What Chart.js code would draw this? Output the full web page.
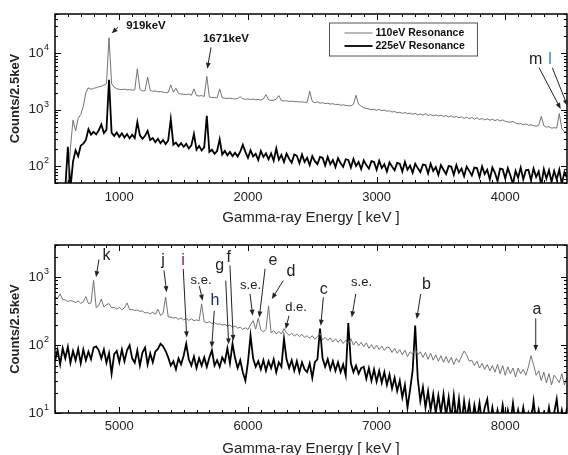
<!DOCTYPE html>
<html>
<head>
<meta charset="utf-8">
<title>Gamma-ray spectra</title>
<script src="https://cdn.jsdelivr.net/npm/chart.js@4.4.1/dist/chart.umd.min.js"></script>
<style>
  html, body { margin: 0; padding: 0; background: #fff; overflow: hidden; }
  .page { position: relative; width: 568px; height: 455px; overflow: hidden; }
  canvas { position: absolute; left: 0; }
  #topChart { top: 0; }
  #bottomChart { top: 228px; }
</style>
</head>
<body>
<div class="page">
  <canvas id="topChart" width="568" height="228"></canvas>
  <canvas id="bottomChart" width="568" height="240"></canvas>
</div>
<script>
// ---- data (keV, counts per 2.5 keV) ----
const seriesLabels = ["110eV Resonance", "225eV Resonance"];

const energyTop = [
  580, 600, 620, 640, 660, 680, 700, 720, 740, 760,
  780, 800, 820, 840, 860, 880, 900, 920, 940, 960,
  980, 1000, 1020, 1040, 1060, 1080, 1100, 1120, 1140, 1160,
  1180, 1200, 1220, 1240, 1260, 1280, 1300, 1320, 1340, 1360,
  1380, 1400, 1420, 1440, 1460, 1480, 1500, 1520, 1540, 1560,
  1580, 1600, 1620, 1640, 1660, 1680, 1700, 1720, 1740, 1760,
  1780, 1800, 1820, 1840, 1860, 1880, 1900, 1920, 1940, 1960,
  1980, 2000, 2020, 2040, 2060, 2080, 2100, 2120, 2140, 2160,
  2180, 2200, 2220, 2240, 2260, 2280, 2300, 2320, 2340, 2360,
  2380, 2400, 2420, 2440, 2460, 2480, 2500, 2520, 2540, 2560,
  2580, 2600, 2620, 2640, 2660, 2680, 2700, 2720, 2740, 2760,
  2780, 2800, 2820, 2840, 2860, 2880, 2900, 2920, 2940, 2960,
  2980, 3000, 3020, 3040, 3060, 3080, 3100, 3120, 3140, 3160,
  3180, 3200, 3220, 3240, 3260, 3280, 3300, 3320, 3340, 3360,
  3380, 3400, 3420, 3440, 3460, 3480, 3500, 3520, 3540, 3560,
  3580, 3600, 3620, 3640, 3660, 3680, 3700, 3720, 3740, 3760,
  3780, 3800, 3820, 3840, 3860, 3880, 3900, 3920, 3940, 3960,
  3980, 4000, 4020, 4040, 4060, 4080, 4100, 4120, 4140, 4160,
  4180, 4200, 4220, 4240, 4260, 4280, 4300, 4320, 4340, 4360,
  4380, 4400, 4420, 4440, 4460, 4480
];

const counts110Top = [
  45, 48, 210, 650, 420, 700, 820, 1150, 2000, 2450,
  2300, 2400, 2450, 2550, 2600, 2750, 2900, 19000, 2900, 2500,
  2350, 2300, 2280, 2320, 2250, 2280, 2220, 2250, 5300, 2300,
  2150, 2180, 3800, 2200, 2120, 2150, 2080, 2100, 2050, 2000,
  2020, 2750, 2050, 2400, 1950, 1900, 1880, 1850, 1900, 1800,
  2340, 1780, 1750, 1780, 1720, 3900, 1680, 1650, 1640, 1620,
  2340, 1620, 1600, 1580, 1600, 1570, 1550, 1580, 1700, 1560,
  1530, 1550, 1520, 1540, 1500, 1520, 1480, 1550, 1850, 1500,
  1460, 1470, 1550, 1780, 1450, 1430, 1440, 1400, 1420, 1390,
  1400, 1370, 1380, 1350, 1360, 2130, 1400, 1330, 1380, 1300,
  1340, 1280, 1300, 1260, 1280, 1230, 1250, 1200, 1220, 1190,
  1180, 1170, 1250, 1800, 1250, 1150, 1080, 1050, 1030, 1000,
  1020, 980, 1010, 960, 990, 940, 960, 910, 930, 880,
  900, 860, 890, 850, 870, 830, 860, 810, 840, 800,
  850, 790, 820, 780, 810, 770, 800, 760, 790, 740,
  780, 730, 760, 720, 750, 700, 740, 690, 730, 680,
  720, 670, 700, 660, 690, 650, 680, 640, 670, 630,
  660, 620, 610, 600, 620, 580, 560, 570, 540, 560,
  530, 540, 520, 510, 530, 760, 520, 490, 500, 470,
  480, 470, 850, 460, 410, 400
];

const counts225Top = [
  40, 220, 40, 120, 190, 150, 230, 250, 290, 450,
  360, 405, 365, 430, 550, 385, 440, 3400, 390, 340,
  395, 330, 380, 320, 370, 310, 360, 315, 600, 350,
  305, 345, 420, 290, 315, 265, 305, 255, 290, 245,
  285, 680, 240, 262, 225, 255, 220, 248, 205, 232,
  370, 195, 228, 190, 215, 780, 178, 195, 165, 185,
  300, 160, 185, 155, 178, 150, 172, 148, 180, 237,
  178, 140, 190, 148, 165, 128, 185, 145, 168, 132,
  168, 125, 205, 130, 158, 118, 166, 135, 115, 160,
  152, 112, 160, 118, 140, 104, 150, 122, 108, 145,
  140, 102, 145, 108, 128, 96, 138, 112, 97, 132,
  128, 94, 134, 100, 118, 88, 126, 104, 90, 122,
  118, 86, 124, 92, 108, 80, 116, 98, 84, 114,
  110, 80, 118, 86, 102, 76, 110, 92, 78, 106,
  104, 74, 110, 82, 96, 70, 104, 86, 72, 100,
  98, 70, 104, 76, 90, 66, 98, 82, 68, 94,
  92, 64, 98, 72, 86, 58, 94, 76, 54, 90,
  88, 60, 92, 68, 48, 82, 62, 94, 58, 84,
  86, 56, 90, 64, 80, 46, 88, 60, 84, 52,
  82, 58, 86, 48, 78, 62
];

const energyBottom = [
  4500, 4520, 4540, 4560, 4580, 4600, 4620, 4640, 4660, 4680,
  4700, 4720, 4740, 4760, 4780, 4800, 4820, 4840, 4860, 4880,
  4900, 4920, 4940, 4960, 4980, 5000, 5020, 5040, 5060, 5080,
  5100, 5120, 5140, 5160, 5180, 5200, 5220, 5240, 5260, 5280,
  5300, 5320, 5340, 5360, 5380, 5400, 5420, 5440, 5460, 5480,
  5500, 5520, 5540, 5560, 5580, 5600, 5620, 5640, 5660, 5680,
  5700, 5720, 5740, 5760, 5780, 5800, 5820, 5840, 5860, 5880,
  5900, 5920, 5940, 5960, 5980, 6000, 6020, 6040, 6060, 6080,
  6100, 6120, 6140, 6160, 6180, 6200, 6220, 6240, 6260, 6280,
  6300, 6320, 6340, 6360, 6380, 6400, 6420, 6440, 6460, 6480,
  6500, 6520, 6540, 6560, 6580, 6600, 6620, 6640, 6660, 6680,
  6700, 6720, 6740, 6760, 6780, 6800, 6820, 6840, 6860, 6880,
  6900, 6920, 6940, 6960, 6980, 7000, 7020, 7040, 7060, 7080,
  7100, 7120, 7140, 7160, 7180, 7200, 7220, 7240, 7260, 7280,
  7300, 7320, 7340, 7360, 7380, 7400, 7420, 7440, 7460, 7480,
  7500, 7520, 7540, 7560, 7580, 7600, 7620, 7640, 7660, 7680,
  7700, 7720, 7740, 7760, 7780, 7800, 7820, 7840, 7860, 7880,
  7900, 7920, 7940, 7960, 7980, 8000, 8020, 8040, 8060, 8080,
  8100, 8120, 8140, 8160, 8180, 8200, 8220, 8240, 8260, 8280,
  8300, 8320, 8340, 8360, 8380, 8400, 8420, 8440, 8460, 8480
];

const counts110Bottom = [
  520, 490, 570, 470, 465, 440, 455, 445, 425, 450,
  415, 435, 520, 410, 420, 900, 360, 385, 480, 365,
  395, 410, 355, 360, 340, 360, 335, 355, 420, 335,
  335, 325, 330, 315, 320, 298, 305, 290, 305, 285,
  340, 275, 295, 510, 262, 258, 252, 256, 240, 252,
  236, 248, 232, 245, 230, 236, 228, 405, 222, 214,
  222, 208, 214, 204, 206, 198, 202, 192, 198, 184,
  192, 178, 184, 172, 180, 170, 200, 230, 172, 250,
  168, 156, 172, 380, 152, 164, 146, 160, 146, 175,
  152, 140, 150, 136, 146, 134, 144, 130, 138, 126,
  138, 122, 134, 150, 120, 130, 118, 128, 112, 124,
  110, 122, 106, 118, 104, 125, 100, 114, 98, 110,
  95, 108, 90, 102, 88, 100, 86, 97, 84, 94,
  92, 78, 90, 76, 86, 72, 84, 68, 80, 74,
  88, 72, 80, 66, 78, 62, 76, 60, 72, 58,
  70, 56, 68, 55, 66, 52, 64, 56, 68, 82,
  72, 58, 60, 50, 58, 46, 54, 44, 52, 42,
  50, 40, 52, 38, 50, 36, 48, 38, 46, 34,
  46, 38, 44, 36, 48, 70, 52, 36, 42, 30,
  40, 28, 38, 26, 36, 32, 28, 38, 26, 34
];

const counts225Bottom = [
  58, 85, 52, 90, 64, 95, 55, 82, 60, 88,
  54, 86, 60, 80, 62, 92, 96, 84, 64, 86,
  55, 76, 38, 74, 82, 56, 86, 58, 84, 100,
  64, 55, 84, 50, 78, 92, 52, 76, 56, 80,
  88, 105, 96, 82, 66, 50, 58, 44, 64, 52,
  70, 105, 62, 50, 68, 46, 64, 50, 66, 48,
  66, 84, 50, 60, 48, 66, 56, 90, 54, 105,
  64, 46, 60, 40, 30, 56, 138, 64, 48, 58,
  44, 60, 42, 58, 46, 62, 40, 56, 48, 124,
  62, 46, 60, 42, 58, 40, 56, 44, 40, 54,
  33, 56, 62, 176, 64, 48, 62, 44, 58, 42,
  56, 40, 52, 36, 212, 54, 40, 50, 38, 46,
  48, 32, 46, 30, 44, 29, 42, 28, 40, 26,
  37, 23, 33, 21, 30, 17, 26, 12, 22, 42,
  195, 32, 15, 24, 12, 21, 11, 19, 10, 18,
  10, 19, 9, 17, 8, 18, 8, 16, 7, 15,
  8, 14, 7, 13, 8, 14, 7, 12, 16, 7,
  12, 7, 11, 7, 13, 7, 11, 7, 14, 7,
  11, 7, 12, 7, 10, 7, 15, 7, 11, 7,
  10, 7, 12, 7, 10, 16, 7, 11, 7, 12
];

const xTicksTop = [1000, 2000, 3000, 4000];
const xTicksBottom = [5000, 6000, 7000, 8000];
const yTicksTop = [100, 1000, 10000];
const yTicksBottom = [10, 100, 1000];

// labels with arrows, in data coordinates: [energy, counts]
const notesTop = [
  { text: "919keV", kind: "peak", at: [1207, 30700], tail: [990, 29100], tip: [941, 22700] },
  { text: "1671keV", kind: "peak", at: [1829, 17800], tail: [1713, 12800], tip: [1684, 5330] },
  { text: "m", kind: "letter", at: [4236, 7800], tail: [4263, 5560], tip: [4431, 1030] },
  { text: "l", kind: "letterBlue", at: [4348, 7800], tail: [4366, 5560], tip: [4483, 1180] },
];

const notesBottom = [
  { text: "k", kind: "letter", at: [4900, 2080], tail: [4842, 1840], tip: [4819, 1007] },
  { text: "j", kind: "letter", at: [5340, 1750], tail: [5347, 1262], tip: [5368, 604] },
  { text: "i", kind: "letterRed", at: [5495, 1750], tail: [5497, 1336], tip: [5524, 130] },
  { text: "s.e.", kind: "small", at: [5635, 887], tail: [5622, 741], tip: [5648, 453] },
  { text: "g", kind: "letter", at: [5780, 1480], tail: [5827, 897], tip: [5850, 103] },
  { text: "h", kind: "letterNavy", at: [5744, 449], tail: [5738, 322], tip: [5718, 92] },
  { text: "f", kind: "letter", at: [5850, 1944], tail: [5860, 1496], tip: [5886, 116] },
  { text: "s.e.", kind: "small", at: [6020, 748], tail: [6016, 570], tip: [6037, 272] },
  { text: "e", kind: "letter", at: [6195, 1754], tail: [6133, 1336], tip: [6088, 257] },
  { text: "d", kind: "letter", at: [6335, 1205], tail: [6275, 897], tip: [6185, 480] },
  { text: "d.e.", kind: "small", at: [6374, 365], tail: [6319, 272], tip: [6293, 173] },
  { text: "c", kind: "letter", at: [6589, 653], tail: [6586, 509], tip: [6566, 193] },
  { text: "s.e.", kind: "small", at: [6883, 829], tail: [6838, 570], tip: [6807, 257] },
  { text: "b", kind: "letter", at: [7388, 774], tail: [7343, 570], tip: [7312, 243] },
  { text: "a", kind: "letter", at: [8247, 330], tail: [8237, 249], tip: [8237, 82] },
];

// ---- styles ----
const FONT = "Arial, 'Liberation Sans', Helvetica, sans-serif";
const INK = "#222";
const noteStyles = {
  peak: { font: `bold 11.5px ${FONT}`, color: "#111" },
  letter: { font: `16px ${FONT}`, color: INK },
  letterBlue: { font: `16px ${FONT}`, color: "#3a7cc4" },
  letterRed: { font: `16px ${FONT}`, color: "#9b1b30" },
  letterNavy: { font: `16px ${FONT}`, color: "#1c2a6e" },
  small: { font: `13px ${FONT}`, color: INK },
};

Chart.defaults.font.family = FONT;
Chart.defaults.color = INK;

function drawArrow(ctx, x0, y0, x1, y1) {
  const ang = Math.atan2(y1 - y0, x1 - x0);
  const head = 6;
  const half = 2.4;
  ctx.beginPath();
  ctx.moveTo(x0, y0);
  ctx.lineTo(x1 - Math.cos(ang) * head * 0.8, y1 - Math.sin(ang) * head * 0.8);
  ctx.stroke();
  ctx.beginPath();
  ctx.moveTo(x1, y1);
  ctx.lineTo(x1 - Math.cos(ang) * head - Math.sin(ang) * half, y1 - Math.sin(ang) * head + Math.cos(ang) * half);
  ctx.lineTo(x1 - Math.cos(ang) * head + Math.sin(ang) * half, y1 - Math.sin(ang) * head - Math.cos(ang) * half);
  ctx.closePath();
  ctx.fill();
}

// frame, inward ticks, exponent labels, notes and the boxed legend
const framePlugin = {
  id: "frame",
  afterDatasetsDraw(chart, args, opts) {
    const { ctx, chartArea: a, scales: { x, y } } = chart;
    ctx.save();

    ctx.strokeStyle = "#000";
    ctx.lineWidth = 1;
    ctx.beginPath();
    for (let v = Math.ceil(x.min / 100) * 100; v <= x.max; v += 100) {
      const px = Math.round(x.getPixelForValue(v)) + 0.5;
      const len = v % 1000 === 0 ? 6 : 3;
      ctx.moveTo(px, a.bottom); ctx.lineTo(px, a.bottom - len);
      ctx.moveTo(px, a.top); ctx.lineTo(px, a.top + len);
    }
    for (let d = 1; d <= 100000; d *= 10) {
      for (let m = 1; m < 10; m++) {
        const v = d * m;
        if (v < y.min || v > y.max) continue;
        const py = Math.round(y.getPixelForValue(v)) + 0.5;
        const len = m === 1 ? 6 : 3;
        ctx.moveTo(a.left, py); ctx.lineTo(a.left + len, py);
        ctx.moveTo(a.right, py); ctx.lineTo(a.right - len, py);
      }
    }
    ctx.stroke();

    ctx.lineWidth = 1.5;
    ctx.strokeRect(a.left, a.top, a.right - a.left, a.bottom - a.top);

    // y tick labels as 10 with a raised exponent
    ctx.fillStyle = INK;
    ctx.textBaseline = "middle";
    for (const v of opts.yTicks) {
      const py = y.getPixelForValue(v);
      const exp = String(Math.round(Math.log10(v)));
      ctx.font = `13.5px ${FONT}`;
      ctx.textAlign = "right";
      ctx.fillText("10", a.left - 11.5, py);
      ctx.font = `9px ${FONT}`;
      ctx.textAlign = "left";
      ctx.fillText(exp, a.left - 11, py - 5.5);
    }

    // notes with arrows
    ctx.lineWidth = 1;
    for (const n of opts.notes) {
      const st = noteStyles[n.kind];
      ctx.font = st.font;
      ctx.fillStyle = st.color;
      ctx.textAlign = "center";
      ctx.textBaseline = "middle";
      ctx.fillText(n.text, x.getPixelForValue(n.at[0]), y.getPixelForValue(n.at[1]));
      ctx.strokeStyle = "#222";
      ctx.fillStyle = "#222";
      drawArrow(ctx,
        x.getPixelForValue(n.tail[0]), y.getPixelForValue(n.tail[1]),
        x.getPixelForValue(n.tip[0]), y.getPixelForValue(n.tip[1]));
    }

    if (opts.legend) {
      const bx = a.left + 274.5, by = a.top + 9, bw = 148, bh = 33;
      ctx.fillStyle = "#fff";
      ctx.fillRect(bx, by, bw, bh);
      ctx.strokeStyle = "#555";
      ctx.lineWidth = 1;
      ctx.strokeRect(bx, by, bw, bh);
      chart.data.datasets.forEach((ds, i) => {
        const ly = by + 10 + i * 13;
        ctx.strokeStyle = ds.borderColor;
        ctx.lineWidth = ds.borderWidth;
        ctx.beginPath();
        ctx.moveTo(bx + 15, ly);
        ctx.lineTo(bx + 43, ly);
        ctx.stroke();
        ctx.fillStyle = "#111";
        ctx.font = `bold 10.5px ${FONT}`;
        ctx.textAlign = "left";
        ctx.textBaseline = "middle";
        ctx.fillText(ds.label, bx + 46, ly);
      });
    }
    ctx.restore();
  },
};

function makeChart(canvasId, setup) {
  return new Chart(document.getElementById(canvasId), {
    type: "line",
    data: {
      labels: setup.energy,
      datasets: [
        { label: seriesLabels[0], data: setup.gray, borderColor: "#646464", borderWidth: 0.9,
          pointRadius: 0, tension: 0 },
        { label: seriesLabels[1], data: setup.black, borderColor: "#000", borderWidth: 1.8,
          pointRadius: 0, tension: 0 },
      ],
    },
    options: {
      responsive: false,
      animation: false,
      events: [],
      layout: { padding: { top: setup.padTop, right: 1, left: 0, bottom: 0 } },
      plugins: {
        legend: { display: false },
        tooltip: { enabled: false },
        frame: { legend: setup.legend, notes: setup.notes, yTicks: setup.yTicks },
      },
      scales: {
        x: {
          type: "linear",
          min: setup.xMin,
          max: setup.xMax,
          afterBuildTicks: (s) => { s.ticks = setup.xTicks.map((v) => ({ value: v })); },
          afterFit: (s) => { s.height = setup.xHeight; },
          grid: { display: false, drawTicks: false },
          border: { display: false },
          ticks: { color: INK, font: { size: 13 }, padding: setup.tickPad, maxRotation: 0,
            autoSkip: false, callback: (v) => String(v) },
          title: { display: true, text: "Gamma-ray Energy [ keV ]", color: INK,
            font: { size: 15 }, padding: { top: 0, bottom: setup.titlePad } },
        },
        y: {
          type: "logarithmic",
          min: setup.yMin,
          max: setup.yMax,
          afterBuildTicks: (s) => { s.ticks = setup.yTicks.map((v) => ({ value: v })); },
          afterFit: (s) => { s.width = 55; },
          grid: { display: false, drawTicks: false },
          border: { display: false },
          ticks: { display: false },
          title: { display: true, text: "Counts/2.5keV", color: INK,
            font: { size: 13, weight: "bold" }, padding: { top: 7.5, bottom: 0 } },
        },
      },
    },
    plugins: [framePlugin],
  });
}

makeChart("topChart", {
  energy: energyTop, gray: counts110Top, black: counts225Top,
  xMin: 500, xMax: 4480, xTicks: xTicksTop,
  yMin: 50, yMax: 50000, yTicks: yTicksTop,
  padTop: 14, xHeight: 45, tickPad: 7, titlePad: 1.5,
  notes: notesTop, legend: true,
});

makeChart("bottomChart", {
  energy: energyBottom, gray: counts110Bottom, black: counts225Bottom,
  xMin: 4500, xMax: 8480, xTicks: xTicksBottom,
  yMin: 10, yMax: 3000, yTicks: yTicksBottom,
  padTop: 17, xHeight: 55, tickPad: 6, titlePad: 10,
  notes: notesBottom, legend: false,
});
</script>
</body>
</html>
